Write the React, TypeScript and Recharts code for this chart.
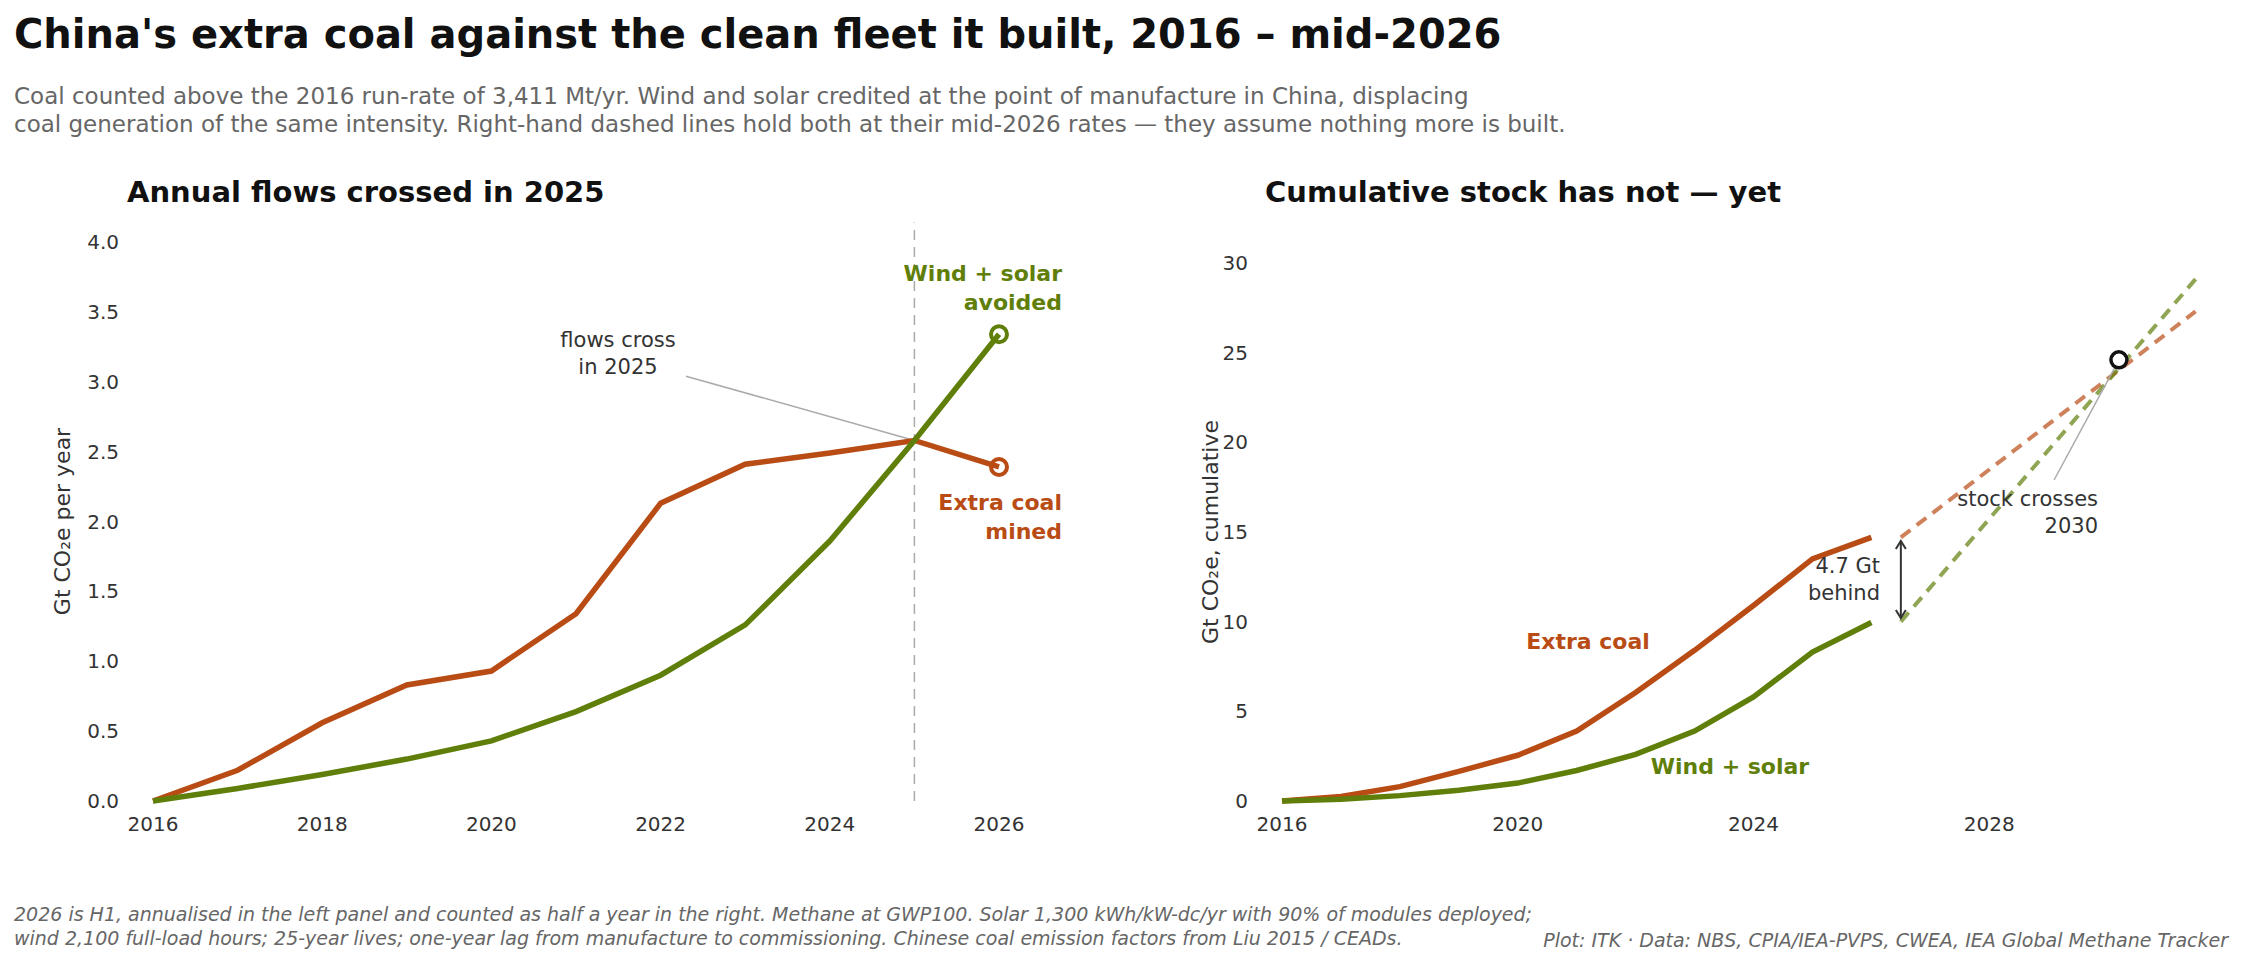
import type { ReactElement } from 'react'
import { LineChart, Line, XAxis, YAxis, ReferenceLine, ReferenceDot } from 'recharts'

const COAL = '#b94c14'
const GREEN = '#5f7f0a'
const FONT = 'DejaVu Sans, sans-serif'

const years = [2016, 2017, 2018, 2019, 2020, 2021, 2022, 2023, 2024, 2025, 2026]
const coalFlow = [0, 0.22, 0.56, 0.83, 0.93, 1.34, 2.13, 2.41, 2.49, 2.58, 2.39]
const cleanFlow = [0, 0.09, 0.19, 0.3, 0.43, 0.64, 0.9, 1.26, 1.86, 2.58, 3.34]
const coalStock = [0, 0.25, 0.8, 1.65, 2.55, 3.9, 6.05, 8.4, 10.9, 13.5, 14.7]
const cleanStock = [0, 0.1, 0.3, 0.6, 1.0, 1.7, 2.6, 3.9, 5.8, 8.3, 9.95]
const projYears = [2026.5, 2031.5]
const coalProj = [14.7, 27.3]
const cleanProj = [10.0, 29.1]

const leftTicksX = [2016, 2018, 2020, 2022, 2024, 2026]
const leftTicksY = [0, 0.5, 1, 1.5, 2, 2.5, 3, 3.5, 4]
const rightTicksX = [2016, 2020, 2024, 2028]
const rightTicksY = [0, 5, 10, 15, 20, 25, 30]

const toPts = (xs: number[], ys: number[]) => xs.map((x, i) => ({ x, y: ys[i] }))

const tick = { fill: '#333', fontSize: 20, fontFamily: FONT }

const endDot = (color: string, n: number) => (p: any) =>
	p.index === n - 1 ? (
		<circle key={`d${p.index}`} cx={p.cx} cy={p.cy} r={8} fill='none' stroke={color} strokeWidth={4} />
	) : (
		<g key={`d${p.index}`} />
	)

const Chevron = (up: boolean) => (p: any) => (
	<path
		d={up ? `M${p.cx - 5},${p.cy + 8} L${p.cx},${p.cy} L${p.cx + 5},${p.cy + 8}` : `M${p.cx - 5},${p.cy - 8} L${p.cx},${p.cy} L${p.cx + 5},${p.cy - 8}`}
		fill='none'
		stroke='#333'
		strokeWidth={2}
	/>
)

const T = (props: { x: number; y: number; text: string[]; align?: 'left' | 'right' | 'center'; color?: string; size?: number; bold?: boolean; italic?: boolean; lh?: number }) => {
	const { x, y, text, align = 'left', color = '#333', size = 21, bold, italic, lh = 1.3 } = props
	const tx = align === 'left' ? 'none' : align === 'right' ? 'translateX(-100%)' : 'translateX(-50%)'
	return (
		<div
			style={{
				position: 'absolute', left: x, top: y, transform: tx, textAlign: align, color, fontSize: size,
				fontWeight: bold ? 'bold' : 'normal', fontStyle: italic ? 'italic' : 'normal', fontFamily: FONT,
				lineHeight: lh, whiteSpace: 'nowrap'
			}}
		>
			{text.map((t, i) => <div key={i}>{t}</div>)}
		</div>
	)
}

const App = (): ReactElement => {
	return (
		<div style={{ position: 'absolute', left: 0, top: 0, width: 2244, height: 967, background: '#fff', fontFamily: FONT }}>
			<T x={14} y={8} text={["China's extra coal against the clean fleet it built, 2016 – mid-2026"]} size={40} bold color='#111' />
			<T x={14} y={82} size={23} color='#666' lh={1.22} text={[
				'Coal counted above the 2016 run-rate of 3,411 Mt/yr. Wind and solar credited at the point of manufacture in China, displacing',
				'coal generation of the same intensity. Right-hand dashed lines hold both at their mid-2026 rates — they assume nothing more is built.'
			]} />
			<T x={127} y={174} text={['Annual flows crossed in 2025']} size={29} bold color='#111' />
			<T x={1265} y={174} text={['Cumulative stock has not — yet']} size={29} bold color='#111' />

			<div style={{ position: 'absolute', left: 0, top: 200 }}>
				<LineChart width={1100} height={650} margin={{ top: 42, right: 101, bottom: 9, left: 0 }}>
					<XAxis type='number' dataKey='x' domain={[2016, 2026]} ticks={leftTicksX} axisLine={false} tickLine={false} tick={tick} height={40} tickMargin={10} allowDuplicatedCategory={false} />
					<YAxis type='number' domain={[0, 4]} ticks={leftTicksY} tickFormatter={(v: number) => v.toFixed(1)} axisLine={false} tickLine={false} tick={tick} width={153} tickMargin={28}
						label={{ value: 'Gt CO₂e per year', angle: -90, position: 'insideLeft', offset: 62, style: { fill: '#333', fontSize: 22, fontFamily: FONT, textAnchor: 'middle' } }} />
					<ReferenceLine segment={[{ x: 2025, y: 0 }, { x: 2025, y: 4.14 }]} stroke='#aaa' strokeWidth={1.5} strokeDasharray='10 7' ifOverflow='visible' />
					<ReferenceLine segment={[{ x: 2022.3, y: 3.04 }, { x: 2025, y: 2.58 }]} stroke='#aaa' strokeWidth={1.5} ifOverflow='visible' />
					<Line data={toPts(years, coalFlow)} dataKey='y' stroke={COAL} strokeWidth={5.5} dot={endDot(COAL, years.length)} isAnimationActive={false} />
					<Line data={toPts(years, cleanFlow)} dataKey='y' stroke={GREEN} strokeWidth={5.5} dot={endDot(GREEN, years.length)} isAnimationActive={false} />
				</LineChart>
			</div>

			<div style={{ position: 'absolute', left: 1150, top: 200 }}>
				<LineChart width={1094} height={650} margin={{ top: 63, right: 19, bottom: 9, left: 0 }}>
					<XAxis type='number' dataKey='x' domain={[2016, 2032]} ticks={rightTicksX} axisLine={false} tickLine={false} tick={tick} height={40} tickMargin={10} allowDuplicatedCategory={false} />
					<YAxis type='number' domain={[0, 30]} ticks={rightTicksY} axisLine={false} tickLine={false} tick={tick} width={132} tickMargin={28}
						label={{ value: 'Gt CO₂e, cumulative', angle: -90, position: 'insideLeft', offset: 60, style: { fill: '#333', fontSize: 22, fontFamily: FONT, textAnchor: 'middle' } }} />
					<Line data={toPts(years, coalStock)} dataKey='y' stroke={COAL} strokeWidth={5.5} dot={false} isAnimationActive={false} />
					<Line data={toPts(years, cleanStock)} dataKey='y' stroke={GREEN} strokeWidth={5.5} dot={false} isAnimationActive={false} />
					<Line data={toPts(projYears, coalProj)} dataKey='y' stroke={COAL} strokeOpacity={0.7} strokeWidth={4} strokeDasharray='12 8' dot={false} isAnimationActive={false} />
					<Line data={toPts(projYears, cleanProj)} dataKey='y' stroke={GREEN} strokeOpacity={0.7} strokeWidth={4} strokeDasharray='12 8' dot={false} isAnimationActive={false} />
					<ReferenceLine segment={[{ x: 2029.1, y: 17.9 }, { x: 2030.2, y: 24.6 }]} stroke='#aaa' strokeWidth={1.5} />
					<ReferenceLine segment={[{ x: 2026.5, y: 14.5 }, { x: 2026.5, y: 10.2 }]} stroke='#333' strokeWidth={2} />
					<ReferenceDot x={2026.5} y={14.5} shape={Chevron(true)} />
					<ReferenceDot x={2026.5} y={10.2} shape={Chevron(false)} />
					<ReferenceDot x={2030.2} y={24.6} r={8} fill='#fff' stroke='#111' strokeWidth={3.5} />
				</LineChart>
			</div>

			<T x={1062} y={260} align='right' size={22} bold color={GREEN} text={['Wind + solar', 'avoided']} />
			<T x={1062} y={489} align='right' size={22} bold color={COAL} text={['Extra coal', 'mined']} />
			<T x={618} y={327} align='center' text={['flows cross', 'in 2025']} />
			<T x={1588} y={628} align='center' size={22} bold color={COAL} text={['Extra coal']} />
			<T x={1730} y={753} align='center' size={22} bold color={GREEN} text={['Wind + solar']} />
			<T x={1880} y={553} align='right' text={['4.7 Gt', 'behind']} />
			<T x={2098} y={486} align='right' text={['stock crosses', '2030']} />

			<T x={14} y={903} size={19} italic color='#666' lh={1.25} text={[
				'2026 is H1, annualised in the left panel and counted as half a year in the right. Methane at GWP100. Solar 1,300 kWh/kW-dc/yr with 90% of modules deployed;',
				'wind 2,100 full-load hours; 25-year lives; one-year lag from manufacture to commissioning. Chinese coal emission factors from Liu 2015 / CEADs.'
			]} />
			<T x={2228} y={928} align='right' size={19} italic color='#666' text={['Plot: ITK · Data: NBS, CPIA/IEA-PVPS, CWEA, IEA Global Methane Tracker']} />
		</div>
	)
}

export default App
